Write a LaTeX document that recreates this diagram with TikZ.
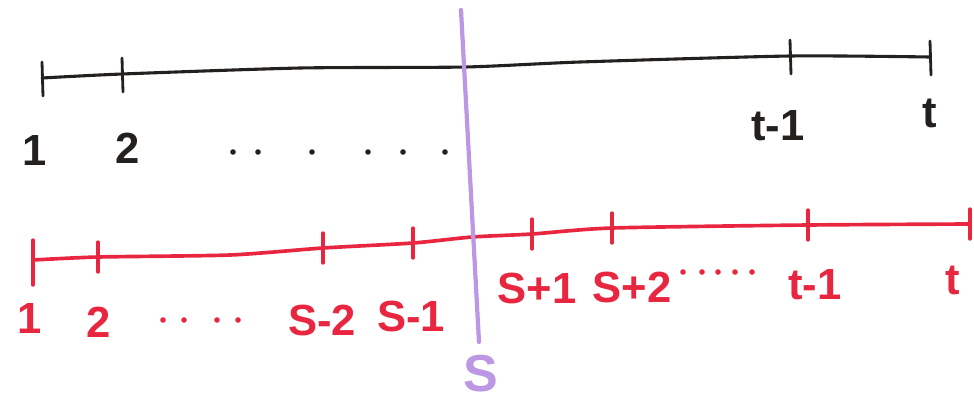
\documentclass[tikz,border=0pt]{standalone}
\usepackage{fontspec}
\setmainfont{Liberation Sans}
\definecolor{penblack}{RGB}{35,32,30}
\definecolor{penred}{RGB}{232,38,64}
\definecolor{penpurple}{RGB}{188,152,228}
\tikzset{
  hand/.style={line width=2.2pt, line cap=round, line join=round},
  tick/.style={line width=2pt, line cap=round},
  lab/.style={font=\fontsize{31}{34}\selectfont\bfseries, inner sep=0pt},
}
\begin{document}
\begin{tikzpicture}[x=0.025cm, y=-0.025cm]
\useasboundingbox (0,0) rectangle (974,404);

% obere Achse (schwarz)
\coordinate (b1) at (42,78);
\coordinate (b2) at (122,74);
\coordinate (ba) at (300,68);
\coordinate (bb) at (465,67);
\coordinate (bc) at (580,62);
\coordinate (btm) at (790,56);
\coordinate (bt) at (930,57);
\draw[hand, penblack] plot[smooth, tension=0.4] coordinates {(b1) (b2) (ba) (bb) (bc) (btm) (bt)};
\foreach \p in {b1,b2,btm,bt}
  \draw[tick, penblack] (\p) ++(0,-16) -- ++(1,34);

\node[lab, penblack] (l1) at (35,150) {1};
\node[lab, penblack] (l2) at (128,148) {2};
\node[lab, penblack] (ltm) at (778,126) {t-1};
\node[lab, penblack] (lt) at (930,113) {t};
\foreach \x in {233,258,312,368,403,445}
  \fill[penblack] (\x,152) circle (2.8);

% untere Achse (rot)
\coordinate (r1) at (33,260);
\coordinate (r2) at (98,257);
\coordinate (ra) at (230,255);
\coordinate (rsmm) at (323,248);
\coordinate (rsm) at (413,243);
\coordinate (rs) at (472,237);
\coordinate (rsp) at (532,234);
\coordinate (rspp) at (612,228);
\coordinate (rtm) at (808,225);
\coordinate (rt) at (970,224);
\draw[hand, penred, line width=2.6pt] plot[smooth, tension=0.4] coordinates {(r1) (r2) (ra) (rsmm) (rsm) (rs) (rsp) (rspp) (rtm) (rt)};
\draw[tick, penred, line width=2.4pt] (r1) ++(0,-20) -- ++(0,45);
\foreach \p in {r2,rsmm,rsm,rsp,rspp,rtm,rt}
  \draw[tick, penred, line width=2.4pt] (\p) ++(0,-15) -- ++(0,30);

\node[lab, penred] (m1) at (30,318) {1};
\node[lab, penred] (m2) at (99,322) {2};
\node[lab, penred] (msmm) at (322,320) {S-2};
\node[lab, penred] (msm) at (411,316) {S-1};
\node[lab, penred] (msp) at (537,288) {S+1};
\node[lab, penred] (mspp) at (632,287) {S+2};
\node[lab, penred] (mtm) at (815,285) {t-1};
\node[lab, penred] (mt) at (953,280) {t};
\foreach \x in {163,184,217,238}
  \fill[penred] (\x,320) circle (2.8);
\foreach \x in {683,702,718,735,752}
  \fill[penred] (\x,272) circle (2.8);

% Trennlinie s (lila)
\coordinate (stop) at (461,10);
\coordinate (sbot) at (479,342);
\draw[hand, penpurple, line width=3pt] (stop) -- (sbot);
\node[lab, penpurple, font=\fontsize{37}{40}\selectfont\bfseries] (ms) at (481,374) {S};

\end{tikzpicture}
\end{document}
